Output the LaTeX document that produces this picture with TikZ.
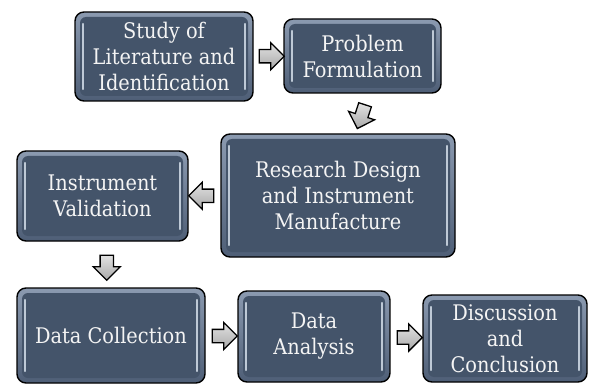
\documentclass[tikz,border=0pt]{standalone}
\usepackage{fontspec}
\setmainfont{DejaVu Serif}[FakeStretch=0.9]
\usetikzlibrary{shapes.arrows,calc}
\definecolor{boxfill}{HTML}{44546A}
\definecolor{boxtop}{HTML}{8B9AB0}
\definecolor{boxbot}{HTML}{4E5E76}
\definecolor{hilite}{HTML}{D4DEEA}
\definecolor{arrowtop}{HTML}{E2E2E2}
\definecolor{arrowbot}{HTML}{A8A8A8}
\definecolor{txt}{HTML}{F4F4F4}
\tikzset{
  stepbox/.style={draw=black, line width=1.4pt, rounded corners=9pt,
    top color=boxtop, bottom color=boxbot, text=txt, align=center,
    font=\fontsize{21.5}{26}\selectfont, inner sep=0pt,
    path picture={
      \fill[boxfill, rounded corners=6pt]
        ([shift={(5pt,5pt)}]path picture bounding box.south west) rectangle
        ([shift={(-5pt,-5pt)}]path picture bounding box.north east);
      \draw[hilite, line width=2.2pt, line cap=round, opacity=0.85]
        ([shift={(8pt,12pt)}]path picture bounding box.south west) --
        ([shift={(8pt,-12pt)}]path picture bounding box.north west);
      \draw[hilite, line width=2.2pt, line cap=round, opacity=0.85]
        ([shift={(-8pt,12pt)}]path picture bounding box.south east) --
        ([shift={(-8pt,-12pt)}]path picture bounding box.north east);
    }},
  blockarrow/.style={single arrow, draw=black, line width=1.3pt,
    top color=arrowtop, bottom color=arrowbot, minimum height=25pt,
    minimum width=25pt, inner sep=6pt, single arrow head extend=7pt}
}
\begin{document}
\begin{tikzpicture}[x=1pt,y=-1pt]
\useasboundingbox (0,0) rectangle (589,385);
\node[stepbox, minimum width=178pt, minimum height=89pt] (b1) at (164,56.5) {Study of\\Literature and\\Identification};
\node[stepbox, minimum width=157pt, minimum height=74pt] (b2) at (362.5,56) {Problem\\Formulation};
\node[stepbox, minimum width=234pt, minimum height=123pt] (b3) at (338,195.5) {Research Design\\and Instrument\\Manufacture};
\node[stepbox, minimum width=171pt, minimum height=90pt] (b4) at (102.5,196) {Instrument\\Validation};
\node[stepbox, minimum width=188pt, minimum height=95pt] (b5) at (111,335.5) {Data Collection};
\node[stepbox, minimum width=152pt, minimum height=91pt] (b6) at (314,336.5) {Data\\Analysis};
\node[stepbox, minimum width=164pt, minimum height=87pt] (b7) at (505,338.5) {Discussion\\and\\Conclusion};
\node[blockarrow] (a1) at ($(b1.east)!0.5!(b2.west)$) {};
\node[blockarrow, shape border rotate=270, rotate=-18] (a2) at ($(b2.south)!0.5!(b3.north)+(12,0)$) {};
\node[blockarrow, shape border rotate=180] (a3) at ($(b3.west)!0.5!(b4.east)$) {};
\node[blockarrow, shape border rotate=270] (a4) at ($(b4.south)!0.5!(b5.north)$) {};
\node[blockarrow] (a5) at ($(b5.east)!0.5!(b6.west)$) {};
\node[blockarrow] (a6) at ($(b6.east)!0.5!(b7.west)$) {};
\end{tikzpicture}
\end{document}
